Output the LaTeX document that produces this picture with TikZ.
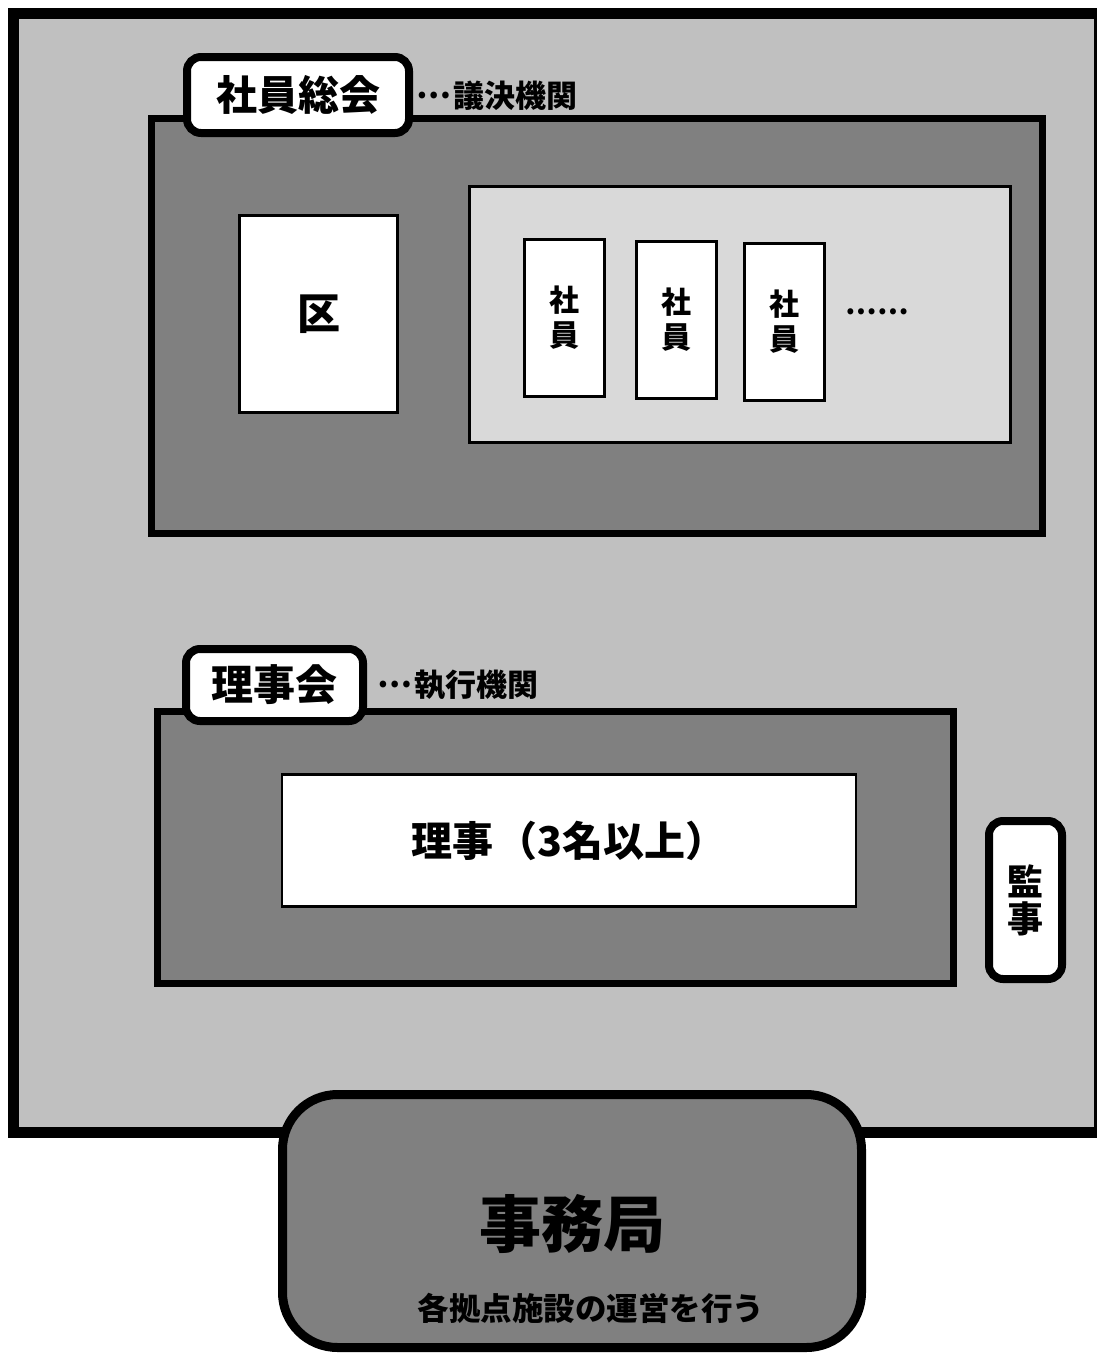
\documentclass[tikz,border=0pt]{standalone}
\usepackage{fontspec}
\setmainfont{Noto Sans CJK JP}[BoldFont={Noto Sans CJK JP Black}]
\definecolor{gLight}{HTML}{C0C0C0}
\definecolor{gDark}{HTML}{808080}
\definecolor{gPale}{HTML}{D9D9D9}
\newcommand{\fs}[2]{\fontsize{#1}{#2}\selectfont\bfseries}
\newcommand{\middots}{\raisebox{0.3em}{…}}
\tikzset{
  outerbox/.style={draw, line width=11pt, fill=gLight, inner sep=0pt},
  darkbox/.style={draw, line width=7pt, fill=gDark, inner sep=0pt},
  palebox/.style={draw, line width=3pt, fill=gPale, inner sep=0pt},
  whitebox/.style={draw, line width=2.5pt, fill=white, inner sep=0pt, align=center},
  tagbox/.style={draw, line width=8pt, fill=white, rounded corners=14pt, inner sep=0pt, align=center},
  note/.style={anchor=west, inner sep=0pt, font=\fs{31}{31}},
  officebox/.style={draw, line width=9pt, fill=gDark, rounded corners=55pt, inner sep=0pt, align=center},
  vert/.style={font=\fs{30}{35}},
}
\begin{document}
\begin{tikzpicture}[x=1pt,y=-1pt]
\useasboundingbox (0,0) rectangle (1096,1358);
\node[outerbox, minimum width=1086pt, minimum height=1119pt] (outer) at (556,572.5) {};
% General meeting
\node[darkbox, minimum width=891pt, minimum height=415pt] (gm) at (597,326) {};
\node[tagbox, minimum width=222pt, minimum height=76pt, font=\fs{41}{41}] (gmtag) at (298,95) {社員総会};
\node[note] (gmnote) at (416,96) {\middots\kern2pt 議決機関};
\node[whitebox, minimum width=158pt, minimum height=197pt, font=\fs{43}{43}] (ku) at (318.5,314) {区};
\node[palebox, minimum width=541pt, minimum height=256pt] (members) at (740,314.5) {};
\node[whitebox, vert, minimum width=80pt, minimum height=157pt] (m1) at (564.5,318) {社\\員};
\node[whitebox, vert, minimum width=80pt, minimum height=157pt] (m2) at (676.5,320) {社\\員};
\node[whitebox, vert, minimum width=80pt, minimum height=157pt] (m3) at (784.5,322) {社\\員};
\node[inner sep=0pt, font=\fs{28}{28}] (dots) at (877,316) {\middots\middots};
% Board
\node[darkbox, minimum width=796pt, minimum height=272pt] (board) at (555.5,847.5) {};
\node[tagbox, minimum width=177pt, minimum height=72pt, font=\fs{42}{42}] (bdtag) at (274.5,685) {理事会};
\node[note] (bdnote) at (377,685) {\middots\kern2pt 執行機関};
\node[whitebox, minimum width=574pt, minimum height=132pt, font=\fs{41}{41}] (dir) at (569,840.5) {理事\kern4pt（3名以上）};
\node[tagbox, minimum width=73pt, minimum height=158pt, font=\fs{36}{37}] (aud) at (1025.5,900) {監\\事};
% Office
\node[officebox, minimum width=579pt, minimum height=253pt] (office) at (572,1221) {};
\node[inner sep=0pt, font=\fs{62}{62}] (offtitle) at (572,1224) {事務局};
\node[inner sep=0pt, font=\fs{31.5}{31.5}] (offsub) at (591,1308) {各拠点施設の運営を行う};
\end{tikzpicture}
\end{document}
